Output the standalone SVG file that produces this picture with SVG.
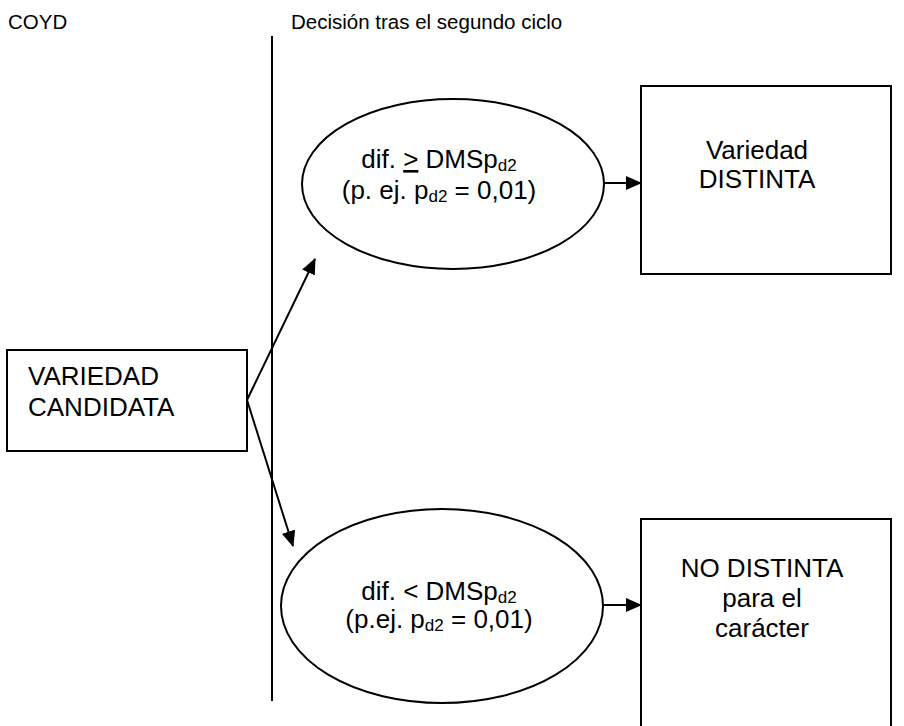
<svg xmlns="http://www.w3.org/2000/svg" width="904" height="726" viewBox="0 0 904 726">
<defs>
<marker id="ah" markerWidth="16" markerHeight="14" refX="15" refY="7" orient="auto" markerUnits="userSpaceOnUse">
<path d="M0,0 L16,7 L0,14 Z" fill="#000"/>
</marker>
<style>
text{font-family:"Liberation Sans",Arial,sans-serif;fill:#000}
.hd{font-size:20.5px}
.t{font-size:26px}
.c{text-anchor:middle}
.sub{font-size:17px}
.shape{fill:#fff;stroke:#000;stroke-width:2}
.conn{stroke:#000;stroke-width:2;fill:none}
</style>
</defs>
<rect width="904" height="726" fill="#fff"/>
<g id="headers">
<text class="hd" x="8" y="29">COYD</text>
<text class="hd" x="291" y="29">Decisión tras el segundo ciclo</text>
</g>
<g id="divider">
<line x1="272" y1="36" x2="272" y2="701" class="conn"/>
</g>
<g id="connectors">
<line x1="247" y1="400" x2="315" y2="259" class="conn" marker-end="url(#ah)"/>
<line x1="247" y1="400" x2="293" y2="546" class="conn" marker-end="url(#ah)"/>
<line x1="604" y1="183" x2="641" y2="183" class="conn" marker-end="url(#ah)"/>
<line x1="604" y1="605" x2="641" y2="605" class="conn" marker-end="url(#ah)"/>
</g>
<g id="candidata">
<rect x="7" y="350" width="240" height="101" class="shape"/>
<text class="t" x="28" y="385">VARIEDAD</text>
<text class="t" x="28" y="416">CANDIDATA</text>
</g>
<g id="ellipse-top">
<ellipse cx="453" cy="184" rx="151" ry="85" class="shape"/>
<text class="t c" x="439" y="168">dif. <tspan text-decoration="underline">&gt;</tspan> DMSp<tspan class="sub" dy="3">d2</tspan></text>
<text class="t c" x="439" y="199">(p. ej. p<tspan class="sub" dy="3">d2</tspan><tspan dy="-3"> = 0,01)</tspan></text>
</g>
<g id="ellipse-bottom">
<ellipse cx="442" cy="606" rx="161" ry="97" class="shape"/>
<text class="t c" x="439" y="600">dif. &lt; DMSp<tspan class="sub" dy="3">d2</tspan></text>
<text class="t c" x="439" y="628">(p.ej. p<tspan class="sub" dy="3">d2</tspan><tspan dy="-3"> = 0,01)</tspan></text>
</g>
<g id="distinta">
<rect x="641" y="86" width="250" height="188" class="shape"/>
<text class="t c" x="757" y="159">Variedad</text>
<text class="t c" x="757" y="188">DISTINTA</text>
</g>
<g id="no-distinta">
<rect x="641" y="519" width="250" height="220" class="shape"/>
<text class="t c" x="762" y="577">NO DISTINTA</text>
<text class="t c" x="762" y="607">para el</text>
<text class="t c" x="762" y="637">carácter</text>
</g>
</svg>
